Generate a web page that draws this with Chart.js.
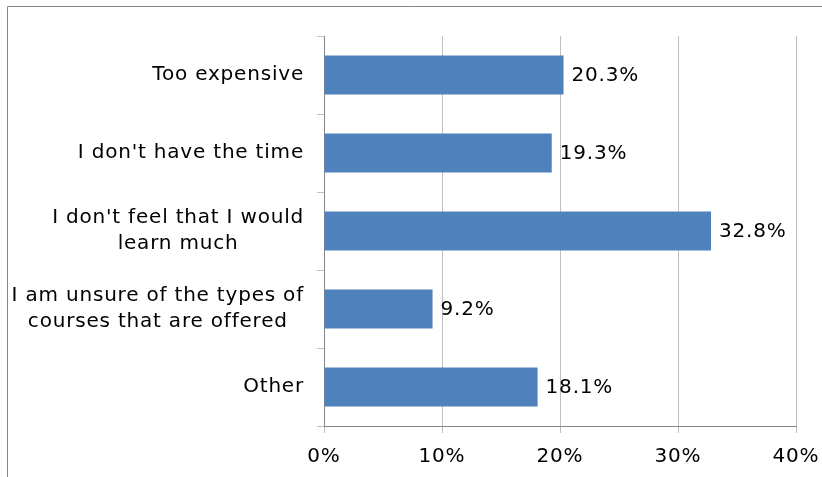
<!DOCTYPE html>
<html>
<head>
<meta charset="utf-8">
<script src="https://cdn.jsdelivr.net/npm/chart.js@4.4.1/dist/chart.umd.min.js"></script>
<style>
  html, body { margin: 0; padding: 0; background: #fff; }
  #wrap { width: 822px; height: 477px; }
</style>
</head>
<body>
<div id="wrap"><canvas id="barChart" width="822" height="477"></canvas></div>
<script>
const REASONS = [
  ["Too expensive"],
  ["I don't have the time"],
  ["I don't feel that I would", "learn much"],
  ["I am unsure of the types of", "courses that are offered"],
  ["Other"]
];
const SHARES = [20.3, 19.3, 32.8, 9.2, 18.1];
const X_TICKS = [0, 10, 20, 30, 40];

const FONT = "'DejaVu Sans', Verdana, sans-serif";
const FONT_SIZE = 20;
const SPACING = '0.8px';

// outer frame, like the Excel chart border that runs off the picture
const framePlugin = {
  id: 'frame',
  beforeDraw(chart) {
    const ctx = chart.ctx;
    ctx.save();
    ctx.strokeStyle = '#868686';
    ctx.lineWidth = 1;
    ctx.beginPath();
    ctx.moveTo(7.5, 477);
    ctx.lineTo(7.5, 6.5);
    ctx.lineTo(822, 6.5);
    ctx.stroke();
    ctx.restore();
    // wider text, closer to Verdana
    ctx.letterSpacing = SPACING;
  }
};

// category labels: multi-line ones centred on themselves, right edge at a fixed gap
const catLabels = {
  id: 'catLabels',
  afterDraw(chart) {
    const ctx = chart.ctx;
    const y = chart.scales.y;
    const right = y.right - 20;
    const lineH = 26;
    ctx.save();
    ctx.letterSpacing = SPACING;
    ctx.font = FONT_SIZE + 'px ' + FONT;
    ctx.fillStyle = '#000';
    ctx.textAlign = 'center';
    ctx.textBaseline = 'middle';
    REASONS.forEach((lines, i) => {
      const w = Math.max(...lines.map(l => ctx.measureText(l).width));
      const cx = right - w / 2;
      const cy = y.getPixelForValue(i);
      lines.forEach((l, k) => {
        ctx.fillText(l, cx, cy + (k - (lines.length - 1) / 2) * lineH);
      });
    });
    ctx.restore();
  }
};

// value labels just past the end of each bar
const valueLabels = {
  id: 'valueLabels',
  afterDatasetsDraw(chart) {
    const ctx = chart.ctx;
    const meta = chart.getDatasetMeta(0);
    ctx.save();
    ctx.letterSpacing = SPACING;
    ctx.font = FONT_SIZE + 'px ' + FONT;
    ctx.fillStyle = '#000';
    ctx.textAlign = 'left';
    ctx.textBaseline = 'middle';
    meta.data.forEach((bar, i) => {
      ctx.fillText(SHARES[i].toFixed(1) + '%', bar.x + 8, bar.y + 1);
    });
    ctx.restore();
  }
};

new Chart(document.getElementById('barChart'), {
  type: 'bar',
  data: {
    labels: REASONS.map(l => l.join(' ')),
    datasets: [{
      data: SHARES,
      backgroundColor: '#4F81BD',
      borderWidth: 0,
      categoryPercentage: 1,
      barPercentage: 0.5
    }]
  },
  options: {
    indexAxis: 'y',
    responsive: false,
    animation: false,
    layout: { padding: { top: 36, right: 26, left: 0, bottom: 0 } },
    plugins: {
      legend: { display: false },
      tooltip: { enabled: false }
    },
    scales: {
      x: {
        min: 0,
        max: 40,
        afterBuildTicks(scale) {
          scale.ticks = X_TICKS.map(v => ({ value: v }));
        },
        afterFit(scale) {
          scale.height = 477 - 426;
          scale.paddingLeft = 0;
          scale.paddingRight = 0;
        },
        border: { color: '#868686', width: 1 },
        grid: { color: '#bfbfbf', tickLength: 7, lineWidth: 1 },
        ticks: {
          color: '#000',
          padding: 12,
          font: { family: FONT, size: FONT_SIZE },
          callback: v => v + '%'
        }
      },
      y: {
        afterFit(scale) { scale.width = 324; },
        border: { color: '#868686', width: 1 },
        grid: { offset: true, drawOnChartArea: false, drawTicks: true, tickLength: 7, color: '#bfbfbf' },
        ticks: { display: false }
      }
    }
  },
  plugins: [framePlugin, catLabels, valueLabels]
});
</script>
</body>
</html>
